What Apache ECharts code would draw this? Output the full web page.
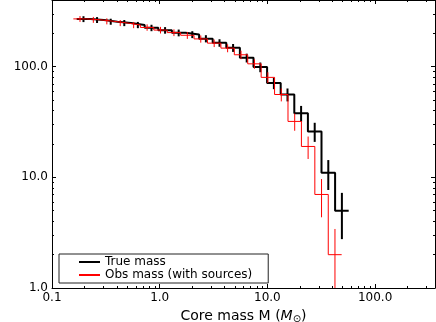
<!DOCTYPE html>
<html><head><meta charset="utf-8">
<script src="https://cdn.jsdelivr.net/npm/echarts@6/dist/echarts.min.js"></script>
<style>html,body{margin:0;padding:0;background:#fff}#c{width:436px;height:322px}</style>
</head><body><div id="c"></div>
<script>
// Bin centres (solar masses) and cumulative counts N(>M)
const trueMass  = [0.196,0.262,0.351,0.469,0.627,0.839,1.122,1.501,2.008,2.685,3.592,4.803,6.425,8.593,11.49,15.37,20.56,27.50,36.77,49.18];
const trueCount = [269,264,255,248,238,224,213,202,195,179,164,148,120,99,71,56,38,26,11,5];
const obsMass   = [0.182,0.242,0.323,0.430,0.573,0.764,1.018,1.356,1.806,2.407,3.206,4.272,5.69,7.58,10.10,13.46,17.93,23.89,31.83,42.40];
const obsCount  = [270,265,257,248,238,226,214,203,192,178,163,147,128,106,80,56,32,19,7,2];

const xMajorTicks = [0.1,1,10,100];
const xMinorTicks = [0.2,0.3,0.4,0.5,0.6,0.7,0.8,0.9,2,3,4,5,6,7,8,9,20,30,40,50,60,70,80,90,200,300];
const yMajorTicks = [1,10,100];
const yMinorTicks = [2,3,4,5,6,7,8,9,20,30,40,50,60,70,80,90,200,300,400];

const FONT = 'DejaVu Sans';

function edges(c){
  const e=[];
  for(let i=0;i<=c.length;i++){
    if(i===0) e.push(c[0]*Math.sqrt(c[0]/c[1]));
    else if(i===c.length) e.push(c[i-1]*Math.sqrt(c[i-1]/c[i-2]));
    else e.push(Math.sqrt(c[i-1]*c[i]));
  }
  return e;
}
function stepData(m,n){const e=edges(m);return e.map((x,i)=>[x,n[Math.min(i,n.length-1)]]);}
function errData(m,n){return m.map((x,i)=>[x,n[i],n[i]-Math.sqrt(n[i]),n[i]+Math.sqrt(n[i])]);}
function errRender(color,w){
  return function(params,api){
    const x=api.value(0), lo=Math.max(api.value(2),0.05), hi=api.value(3);
    const p1=api.coord([x,hi]), p2=api.coord([x,lo]);
    return {type:'line',shape:{x1:p1[0],y1:p1[1],x2:p2[0],y2:p2[1]},style:{stroke:color,lineWidth:w}};
  };
}
const fmt = v => Number(v).toFixed(1);

function xAx(pos, ticks, len, withLine, labels){
  return {
    type:'log', position:pos, min:0.1, max:360, logBase:10,
    axisLine:{show:withLine, onZero:false, lineStyle:{color:'#000',width:1}},
    axisTick:{show:true, inside:true, length:len, customValues:ticks, lineStyle:{color:'#000',width:1}},
    axisLabel: labels ? {show:true, customValues:xMajorTicks, formatter:fmt, margin:4, color:'#000', fontSize:12, fontFamily:FONT, showMinLabel:true, hideOverlap:false} : {show:false},
    splitLine:{show:false}, minorTick:{show:false}, minorSplitLine:{show:false}
  };
}
function yAx(pos, ticks, len, withLine, labels){
  return {
    type:'log', position:pos, min:1, max:400, logBase:10,
    axisLine:{show:withLine, onZero:false, lineStyle:{color:'#000',width:1}},
    axisTick:{show:true, inside:true, length:len, customValues:ticks, lineStyle:{color:'#000',width:1}},
    axisLabel: labels ? {show:true, customValues:yMajorTicks, formatter:fmt, margin:4, color:'#000', fontSize:12, fontFamily:FONT, showMinLabel:true, hideOverlap:false, align:'right', verticalAlign:'middle'} : {show:false},
    splitLine:{show:false}, minorTick:{show:false}, minorSplitLine:{show:false}
  };
}

const xAxes = [xAx('bottom',xMajorTicks,4,true,true), xAx('bottom',xMinorTicks,2,false,false),
               xAx('top',xMajorTicks,4,true,false), xAx('top',xMinorTicks,2,false,false)];
Object.assign(xAxes[0], {
  name:'Core mass M ({i|M}{s|⊙})', nameLocation:'middle', nameGap:13,
  nameTextStyle:{color:'#000', fontSize:14, fontFamily:FONT,
    rich:{i:{fontStyle:'italic', fontSize:14, fontFamily:FONT, color:'#000'},
          s:{fontSize:10, fontFamily:FONT, color:'#000', padding:[7,0,0,0]}}}
});
const yAxes = [yAx('left',yMajorTicks,4,true,true), yAx('left',yMinorTicks,2,false,false),
               yAx('right',yMajorTicks,4,true,false), yAx('right',yMinorTicks,2,false,false)];
Object.assign(yAxes[0], {
  name:'N of cores with mass > M', nameLocation:'middle', nameGap:38, nameRotate:90,
  nameTextStyle:{color:'#000', fontSize:14, fontFamily:FONT}
});

const chart = echarts.init(document.getElementById('c'), null, {renderer:'canvas'});
chart.setOption({
  animation:false,
  backgroundColor:'#fff',
  grid:{left:52, right:1, top:0, bottom:34, containLabel:false, outerBoundsMode:'none'},
  xAxis:xAxes, yAxis:yAxes,
  legend:{left:59, top:254, orient:'vertical', padding:[2,16,2,19], itemGap:1, itemWidth:21, itemHeight:12,
    borderColor:'#222', borderWidth:1, backgroundColor:'#fff', borderRadius:0,
    itemStyle:{opacity:0},
    textStyle:{fontSize:12, fontFamily:FONT, color:'#000'},
    data:['True mass','Obs mass (with sources)']},
  series:[
    {name:'True mass', type:'line', step:'end', symbol:'none', data:stepData(trueMass,trueCount),
     lineStyle:{color:'#000', width:2}, itemStyle:{color:'#000'}, z:2, clip:true},
    {name:'True mass errors', type:'custom', data:errData(trueMass,trueCount), renderItem:errRender('#000',2),
     encode:{x:0,y:[1,2,3]}, z:2, clip:true},
    {name:'Obs mass (with sources)', type:'line', step:'end', symbol:'none', data:stepData(obsMass,obsCount),
     lineStyle:{color:'#ff0000', width:1}, itemStyle:{color:'#ff0000'}, z:3, clip:true},
    {name:'Obs mass errors', type:'custom', data:errData(obsMass,obsCount), renderItem:errRender('#ff0000',1),
     encode:{x:0,y:[1,2,3]}, z:3, clip:true}
  ]
});
</script></body></html>
